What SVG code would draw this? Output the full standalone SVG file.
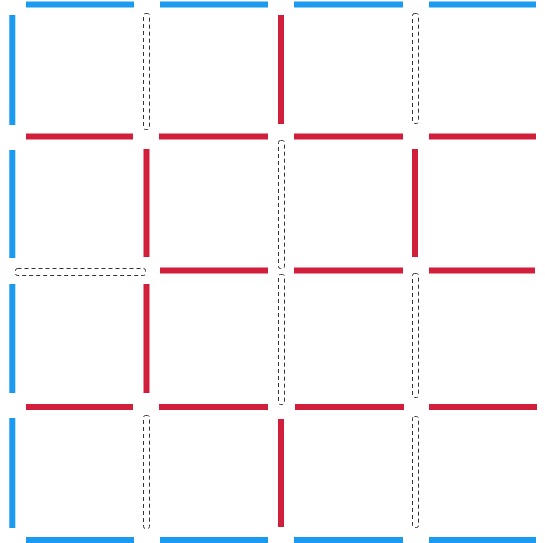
<svg xmlns="http://www.w3.org/2000/svg" width="545" height="543" viewBox="0 0 545 543">
<style>
.b{stroke:#1A9BF0;stroke-width:6;fill:none}
.r{stroke:#D11F3B;stroke-width:6;fill:none}
.d{stroke:#333;stroke-width:1;stroke-dasharray:4 3;fill:none}
</style>
<rect width="545" height="543" fill="#fff"/>
<g id="border">
<path class="b" d="M26 4.5H134M160 4.5H268M294 4.5H403M429 4.5H536"/>
<path class="b" d="M26 540H134M160 540H268M294 540H403M429 540H536"/>
<path class="b" d="M12.3 15V125M12.3 150V258M12.3 284V393M12.3 418V528"/>
</g>
<g id="sticks">
<path class="r" d="M26 136.5H133M159 136.5H268M294 136.5H403M429 136.5H536"/>
<path class="r" d="M160 270.5H268M294 270.5H403M429 270.5H535"/>
<path class="r" d="M26 407H133M159 407H268M295 407H404M429 407H537"/>
<path class="r" d="M146.5 149V257M146.5 284V393"/>
<path class="r" d="M281 15V124M281 419V527"/>
<path class="r" d="M415 149V257"/>
</g>
<g id="removed">
<rect class="d" x="143.5" y="13.5" width="6" height="116" rx="2"/>
<rect class="d" x="143.5" y="415.5" width="6" height="113" rx="2"/>
<rect class="d" x="278.5" y="140.5" width="6" height="128" rx="2"/>
<rect class="d" x="278.5" y="274.5" width="6" height="130" rx="2"/>
<rect class="d" x="412.5" y="13.5" width="6" height="110" rx="2"/>
<rect class="d" x="412.5" y="273.5" width="6" height="124" rx="2"/>
<rect class="d" x="412.5" y="416.5" width="6" height="111" rx="2"/>
<rect class="d" x="15.5" y="268.5" width="130" height="7" rx="2"/>
</g>
</svg>
